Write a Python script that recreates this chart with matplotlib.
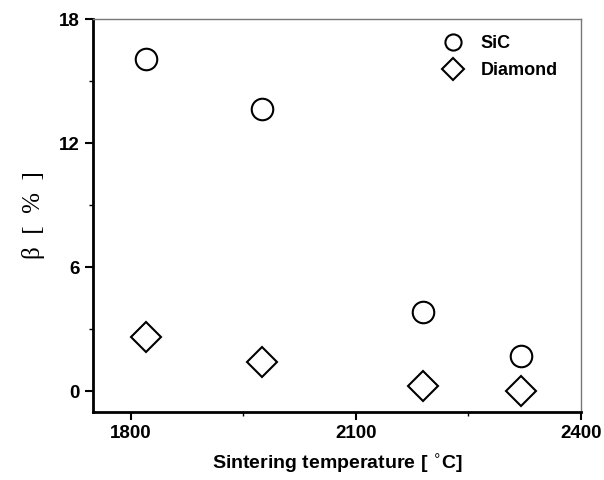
import matplotlib.pyplot as plt
from matplotlib.ticker import MultipleLocator

# 烧结温度与β值
temps = [1820, 1975, 2190, 2320]
sic_beta = [16.05, 13.65, 3.85, 1.7]
diamond_beta = [2.6, 1.4, 0.25, 0.0]

fig = plt.figure(figsize=(6.04, 4.8), dpi=100, facecolor='white')
ax = fig.add_axes([0.154, 0.142, 0.808, 0.818])

ax.plot(temps, sic_beta, linestyle='none', marker='o', ms=15.5,
        mfc='white', mec='black', mew=1.5, label='SiC')
ax.plot(temps, diamond_beta, linestyle='none', marker='D', ms=15,
        mfc='white', mec='black', mew=1.5, label='Diamond')

ax.set_xlim(1750, 2400)
ax.set_ylim(-1, 18)
ax.xaxis.set_major_locator(MultipleLocator(300))
ax.xaxis.set_minor_locator(MultipleLocator(150))
ax.yaxis.set_major_locator(MultipleLocator(6))
ax.yaxis.set_minor_locator(MultipleLocator(3))

for side in ['left', 'bottom']:
    ax.spines[side].set_linewidth(2)
    ax.spines[side].set_color('black')
for side in ['top', 'right']:
    ax.spines[side].set_linewidth(1)
    ax.spines[side].set_color('#777777')

ax.tick_params(which='major', direction='out', length=6, width=1.5,
               top=False, right=False)
ax.tick_params(which='minor', direction='out', length=3, width=1,
               top=False, right=False)
for lab in ax.get_xticklabels() + ax.get_yticklabels():
    lab.set_family('Liberation Sans')
    lab.set_fontweight('bold')
    lab.set_fontsize(13.5)

ax.set_xlabel('Sintering temperature [ $^{\\circ}$C]', family='Liberation Sans',
              fontweight='bold', fontsize=14, labelpad=8)
ax.set_ylabel('β  [  %  ]', family='Liberation Serif', fontsize=18, labelpad=10)

leg = ax.legend(loc='upper right', bbox_to_anchor=(0.985, 1.0), frameon=False,
                prop={'family': 'Liberation Sans', 'weight': 'bold', 'size': 13},
                handlelength=1.6, handletextpad=0.7, labelspacing=0.55,
                markerscale=0.75)

fig.savefig('out.png', dpi=100)
